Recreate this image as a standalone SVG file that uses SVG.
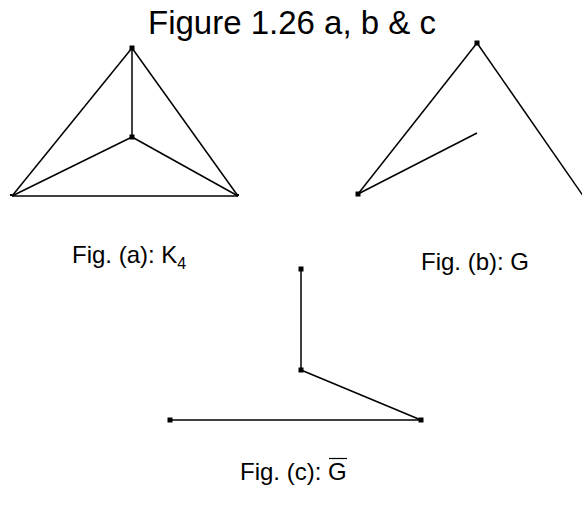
<svg xmlns="http://www.w3.org/2000/svg" width="582" height="506" viewBox="0 0 582 506">
<style>
.e{stroke:#000;stroke-width:1.5;fill:none}
.v{fill:#000}
text{font-family:"Liberation Sans",Arial,sans-serif;fill:#000}
.t{font-size:33px}
.l{font-size:24px}
.s{font-size:16px}
</style>
<rect width="582" height="506" fill="#fff"/>
<text class="t" x="292" y="34" text-anchor="middle">Figure 1.26 a, b &amp; c</text>
<g id="connectors">
<line class="e" x1="132" y1="48" x2="12" y2="196"/>
<line class="e" x1="132" y1="48" x2="238" y2="196"/>
<line class="e" x1="132" y1="48" x2="132" y2="137"/>
<line class="e" x1="132" y1="137" x2="12" y2="196"/>
<line class="e" x1="132" y1="137" x2="238" y2="196"/>
<line class="e" x1="12" y1="196" x2="238" y2="196"/>
<line class="e" x1="477" y1="43" x2="358" y2="194"/>
<line class="e" x1="477" y1="43" x2="586" y2="200"/>
<line class="e" x1="358" y1="194" x2="477" y2="133"/>
<line class="e" x1="301" y1="269" x2="301" y2="370"/>
<line class="e" x1="301" y1="370" x2="421" y2="420"/>
<line class="e" x1="170" y1="420" x2="421" y2="420"/>
</g>
<g id="a-top"><rect class="v" x="129.5" y="45.5" width="5" height="5"/></g>
<g id="a-center"><rect class="v" x="129.5" y="134.5" width="5" height="5"/></g>
<g id="a-left"><rect class="v" x="10" y="194" width="2" height="2"/></g>
<g id="a-right"><rect class="v" x="237" y="194" width="2" height="2"/></g>
<g id="b-top"><rect class="v" x="474.5" y="40.5" width="5" height="5"/></g>
<g id="b-left"><rect class="v" x="355.5" y="191.5" width="5" height="5"/></g>
<g id="c-top"><rect class="v" x="298.5" y="266.5" width="5" height="5"/></g>
<g id="c-mid"><rect class="v" x="298.5" y="367.5" width="5" height="5"/></g>
<g id="c-right"><rect class="v" x="418.5" y="417.5" width="5" height="5"/></g>
<g id="c-left"><rect class="v" x="167.5" y="417.5" width="5" height="5"/></g>
<text class="l" x="72" y="263">Fig. (a): K<tspan class="s" dy="6">4</tspan></text>
<text class="l" x="421" y="270">Fig. (b): G</text>
<text class="l" x="240" y="480">Fig. (c): G</text>
<line x1="329" y1="458.5" x2="347" y2="458.5" stroke="#000" stroke-width="1.2"/>
</svg>
